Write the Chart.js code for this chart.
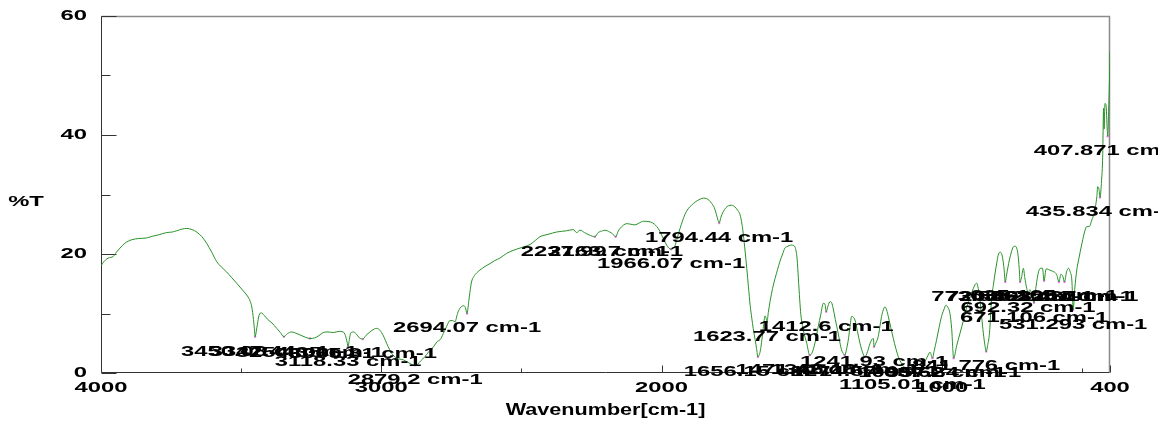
<!DOCTYPE html>
<html>
<head>
<meta charset="utf-8">
<script src="https://cdn.jsdelivr.net/npm/chart.js@4"></script>
<style>
  html, body { margin: 0; padding: 0; background: #ffffff; }
  #wrap { width: 1158px; height: 424px; }
</style>
</head>
<body>
<div id="wrap"><canvas id="ir" width="1158" height="424"></canvas></div>
<script>
// IR spectrum: wavenumber (cm-1) and transmittance (%T)
const wavenumbers = [
  4000, 3990, 3975, 3956, 3945, 3932, 3915, 3890, 3865, 3837, 3815, 3796, 3766, 3745, 3730, 3710,
  3694, 3675, 3659, 3640, 3623, 3605, 3587, 3570, 3552, 3535, 3516, 3498, 3480, 3470, 3462, 3456,
  3452, 3450.08, 3446, 3442, 3436, 3428, 3418, 3405, 3390, 3373, 3360, 3347.44, 3335, 3320, 3305,
  3290, 3270, 3254.35, 3238, 3222, 3207, 3190, 3171, 3150, 3136, 3128, 3122, 3118.33, 3114, 3109,
  3100, 3090, 3078, 3065.81, 3055, 3040, 3025, 3016, 3005, 2999, 2990, 2981, 2970, 2963, 2945,
  2921, 2905, 2890, 2879.2, 2870, 2860, 2845, 2830, 2814, 2800, 2790, 2779, 2767, 2755, 2745,
  2737, 2728, 2719, 2707, 2700, 2694.07, 2688, 2684, 2678, 2670, 2660, 2648, 2630, 2612, 2595,
  2577, 2553, 2530, 2505, 2485, 2469, 2450, 2434, 2405, 2374, 2339, 2315, 2303, 2291, 2275, 2258,
  2237.99, 2226, 2210, 2202, 2185, 2175, 2163.7, 2155, 2148, 2124, 2110, 2095, 2080, 2065, 2041,
  2025, 2017, 2008, 2000, 1990, 1982, 1974, 1966.07, 1958, 1952, 1945, 1934, 1917, 1905, 1893,
  1878, 1863, 1850, 1839, 1830, 1821, 1812, 1804, 1798, 1794.44, 1788, 1780, 1770, 1762, 1750,
  1738, 1728, 1720, 1713, 1708, 1702, 1696, 1690, 1684, 1678, 1673, 1666, 1661, 1656.15, 1651,
  1647, 1642, 1637, 1631, 1627, 1623.77, 1619, 1613, 1604, 1595, 1586, 1578, 1568, 1560, 1554,
  1545, 1536, 1528, 1524, 1520, 1516, 1512, 1507, 1503, 1494, 1482, 1471.42, 1465, 1459, 1450,
  1441, 1432, 1423, 1417, 1412.6, 1406, 1399, 1393, 1388, 1380, 1370, 1364, 1358, 1352, 1346.18,
  1340, 1334, 1328, 1322, 1316, 1310, 1301, 1292, 1283, 1274.57, 1265, 1256, 1250, 1244, 1241.93,
  1236, 1227, 1221, 1215, 1209, 1203, 1197, 1191, 1182, 1173, 1164, 1155, 1146, 1137, 1125, 1114,
  1105.01, 1095, 1085, 1078, 1066, 1054, 1046, 1042, 1037, 1033.62, 1027, 1019, 1010, 1001, 993,
  985, 978, 971, 965, 957.84, 947, 935, 922, 911, 902, 894, 882, 876, 870, 864, 858, 852, 846,
  841.776, 836, 830, 822, 816, 810, 804, 799, 793, 787, 782, 778, 773.546, 770, 764, 759, 752,
  745, 738, 733, 728, 724, 720.893, 716, 709, 704, 697, 692.32, 686, 678, 671.106, 664, 655, 648,
  641, 635.165, 628, 620, 610, 600, 590, 582.251, 575, 568, 562.437, 555, 548, 542, 536, 531.293,
  526, 518, 512, 500, 489, 483, 474, 465, 457, 447, 444, 439, 435.834, 430, 426, 423, 421, 418,
  414, 410, 407.871, 405, 402, 400
];
const transmittance = [
  18.0, 18.7, 19.3, 19.6, 20.3, 21.0, 21.8, 22.4, 22.6, 22.7, 23.0, 23.2, 23.6, 23.7, 23.9, 24.2,
  24.3, 24.1, 23.7, 22.9, 21.8, 20.3, 18.7, 17.8, 17.0, 16.1, 15.1, 14.1, 13.1, 12.3, 11.1, 9.0,
  7.0, 6.1, 7.0, 8.2, 9.7, 10.1, 9.7, 9.0, 8.4, 7.5, 6.8, 6.1, 6.6, 6.9, 6.7,
  6.4, 6.0, 5.8, 5.9, 6.3, 6.8, 6.9, 6.8, 7.0, 6.9, 6.3, 5.2, 4.4, 5.6, 6.7,
  6.9, 6.6, 5.9, 5.7, 6.3, 6.9, 7.4, 7.5, 7.2, 6.8, 6.0, 5.0, 3.9, 3.3, 2.5,
  2.2, 1.8, 1.4, 1.3, 1.5, 2.0, 2.7, 3.6, 4.4, 5.3, 5.6, 6.6, 7.8, 8.8, 8.8,
  8.6, 10.0, 10.9, 11.3, 11.0, 10.0, 12.0, 13.5, 15.3, 16.2, 16.8, 17.3, 17.9, 18.4, 18.9,
  19.3, 20.1, 20.6, 21.0, 21.3, 21.6, 22.3, 22.9, 23.3, 23.7, 23.9, 24.1, 23.6, 24.0, 23.6, 23.2,
  22.9, 23.6, 23.9, 24.0, 23.7, 23.4, 22.9, 23.8, 24.3, 25.1, 25.0, 24.9, 25.2, 25.5, 25.4,
  25.0, 24.6, 24.0, 23.2, 22.3, 21.5, 21.0, 20.8, 21.0, 21.4, 22.5, 24.3, 26.6, 27.6, 28.2,
  28.8, 29.2, 29.4, 29.3, 29.0, 28.5, 27.8, 26.6, 25.6, 25.2, 26.2, 27.1, 27.8, 28.1, 28.2,
  27.9, 27.3, 26.6, 25.0, 23.2, 20.5, 17.6, 14.5, 11.4, 9.2, 7.5, 5.6, 4.1, 2.7, 3.1,
  3.9, 5.6, 7.5, 9.6, 9.2, 8.6, 10.2, 12.0, 14.2, 15.9, 17.4, 18.7, 20.0, 21.0, 21.2,
  21.4, 21.5, 21.4, 21.2, 20.5, 19.0, 16.0, 12.3, 9.8, 7.2, 5.0, 3.0, 3.2, 3.9, 5.6,
  7.8, 9.8, 11.7, 11.6, 10.3, 11.3, 12.0, 11.8, 10.9, 9.0, 6.7, 5.2, 3.9, 3.3, 3.0,
  4.0, 5.5, 7.6, 9.5, 9.4, 8.9, 7.0, 5.0, 3.5, 2.7, 3.6, 5.0, 5.6, 5.8, 4.4,
  5.0, 6.1, 7.8, 9.5, 10.6, 11.1, 10.6, 9.5, 7.6, 5.8, 4.1, 2.7, 1.8, 1.1, 0.9, 0.7,
  0.5, 0.6, 0.7, 0.8, 1.5, 2.5, 3.3, 3.5, 2.9, 2.5, 3.8, 5.5, 7.6, 9.5, 10.6,
  11.4, 11.0, 10.0, 7.5, 2.5, 4.6, 6.7, 9.0, 11.1, 12.3, 13.4, 14.8, 15.1, 14.2, 12.3, 9.5, 6.7, 4.6,
  3.6, 4.8, 6.7, 12.8, 14.8, 16.8, 18.5, 19.8, 20.3, 20.1, 19.0, 17.5, 15.3, 16.2, 17.8, 19.0, 20.3,
  21.2, 21.3, 21.0, 19.8, 17.6, 15.3, 16.0, 17.6, 16.0, 14.2, 13.4, 14.0, 13.0, 11.8, 14.5, 17.0, 17.6,
  17.6, 15.5, 17.5, 17.4, 17.2, 17.0, 16.5, 15.3, 16.6, 16.2, 15.3, 17.0, 17.6, 17.0, 15.5, 10.6,
  14.0, 17.5, 19.0, 21.8, 24.0, 24.6, 24.6, 25.7, 26.8, 29.6, 31.3, 30.8, 29.5, 32.4, 36.5, 44.5, 41.0, 45.3,
  45.0, 41.0, 39.8, 44.0, 49.0, 54.0
];

// picked peaks (wavenumber) and their printed labels
const peakWavenumbers = [
  3450.08, 3347.44, 3254.35, 3118.33, 3065.81, 2879.2, 2694.07, 2237.99, 2163.7, 1966.07,
  1794.44, 1656.15, 1623.77, 1471.42, 1412.6, 1346.18, 1274.57, 1241.93, 1105.01, 1033.62,
  957.84, 841.776, 773.546, 720.893, 692.32, 671.106, 635.165, 582.251, 562.437, 531.293,
  435.834, 407.871
];
const peakLabels = peakWavenumbers.map(w => w + ' cm-1');

// axis ticks
const xMajorTicks = [4000, 3000, 2000, 1000, 400];
const xMinorTicks = [3500, 2500, 1500, 500];
const yMajorTicks = [0, 20, 40, 60];
const yMinorTicks = [10, 30, 50];
const xTitle = 'Wavenumber[cm-1]';
const yTitle = '%T';

const spectrum = wavenumbers.map((w, i) => ({ x: w, y: transmittance[i] }));
const peakPoints = peakWavenumbers.map(w => ({ x: w, y: transmittance[wavenumbers.indexOf(w)] }));

const LABEL_FONT = 'bold 14px "Liberation Sans", Arial, sans-serif';
const LABEL_SX = 1.7;
const TITLE_FONT = 'bold 16px "Liberation Sans", Arial, sans-serif';
const TITLE_SX = 1.35;

function wideText(ctx, text, x, y, font, sx, align) {
  ctx.save();
  ctx.font = font;
  ctx.textBaseline = 'middle';
  ctx.textAlign = 'left';
  const w = ctx.measureText(text).width * sx;
  const left = align === 'center' ? x - w / 2 : (align === 'right' ? x - w : x);
  ctx.translate(left, y);
  ctx.scale(sx, 1);
  ctx.fillStyle = '#000000';
  ctx.fillText(text, 0, 0);
  ctx.restore();
}

const frame = {
  id: 'frame',
  beforeDatasetsDraw(chart) {
    const { ctx, chartArea: a, scales: { x, y } } = chart;
    const L = Math.round(a.left) + 0.5, R = Math.round(a.right) - 0.5;
    const T = Math.round(a.top) + 0.5, B = Math.round(a.bottom) - 0.5;
    ctx.save();
    ctx.lineWidth = 1.5;
    ctx.strokeStyle = '#8a8a8a';
    ctx.beginPath();
    ctx.moveTo(L, T); ctx.lineTo(R, T); ctx.lineTo(R, B);
    ctx.stroke();
    ctx.lineWidth = 1;
    ctx.strokeStyle = '#333333';
    ctx.beginPath();
    ctx.moveTo(L, T); ctx.lineTo(L, B); ctx.lineTo(R, B);
    ctx.stroke();
    // y ticks point into the plot
    ctx.beginPath();
    yMajorTicks.forEach(v => { const p = Math.round(y.getPixelForValue(v)) + 0.5; ctx.moveTo(L, p); ctx.lineTo(L + 15, p); });
    yMinorTicks.forEach(v => { const p = Math.round(y.getPixelForValue(v)) + 0.5; ctx.moveTo(L, p); ctx.lineTo(L + 9, p); });
    xMajorTicks.forEach(v => { const p = Math.round(x.getPixelForValue(v)) + 0.5; ctx.moveTo(p, B); ctx.lineTo(p, B - 7); });
    xMinorTicks.forEach(v => { const p = Math.round(x.getPixelForValue(v)) + 0.5; ctx.moveTo(p, B); ctx.lineTo(p, B - 4); });
    ctx.stroke();
    ctx.restore();

    yMajorTicks.forEach(v => wideText(ctx, String(v), a.left - 14, y.getPixelForValue(v), LABEL_FONT, LABEL_SX, 'right'));
    xMajorTicks.forEach(v => wideText(ctx, String(v), x.getPixelForValue(v), a.bottom + 15, LABEL_FONT, LABEL_SX, 'center'));
    wideText(ctx, yTitle, 26, (a.top + a.bottom) / 2 + 8, LABEL_FONT, LABEL_SX, 'center');
    wideText(ctx, xTitle, (a.left + a.right) / 2, a.bottom + 38, TITLE_FONT, TITLE_SX, 'center');
  },
  afterDatasetsDraw(chart) {
    const { ctx, scales: { x, y } } = chart;
    peakPoints.forEach((p, i) => {
      wideText(ctx, peakLabels[i], x.getPixelForValue(p.x), y.getPixelForValue(p.y) + 15, LABEL_FONT, LABEL_SX, 'center');
    });
  }
};

new Chart(document.getElementById('ir'), {
  type: 'line',
  data: {
    datasets: [
      {
        data: spectrum,
        borderColor: 'rgb(40,145,40)',
        borderWidth: 1,
        pointRadius: 0,
        cubicInterpolationMode: 'monotone',
        fill: false
      },
      {
        type: 'scatter',
        data: peakPoints,
        pointRadius: 1.2,
        pointBackgroundColor: 'rgb(255,120,255)',
        pointBorderWidth: 0
      }
    ]
  },
  options: {
    responsive: false,
    animation: false,
    devicePixelRatio: 1,
    layout: { padding: { left: 101, right: 48, top: 16, bottom: 51 } },
    scales: {
      x: { type: 'linear', reverse: true, min: 400, max: 4000, display: false },
      y: { type: 'linear', min: 0, max: 60, display: false }
    },
    plugins: { legend: { display: false }, tooltip: { enabled: false } }
  },
  plugins: [frame]
});
</script>
</body>
</html>
